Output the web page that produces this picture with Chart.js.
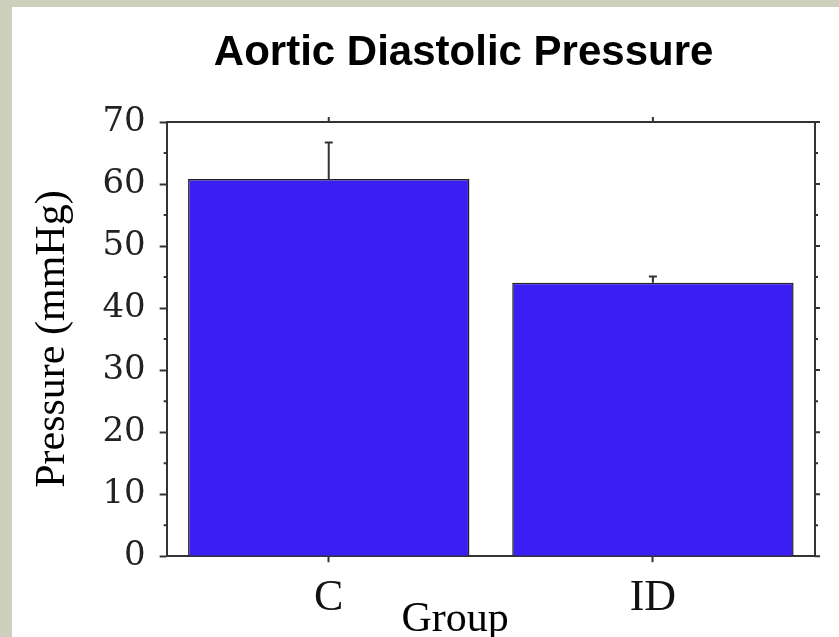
<!DOCTYPE html>
<html>
<head>
<meta charset="utf-8">
<title>Aortic Diastolic Pressure</title>
<script src="https://cdn.jsdelivr.net/npm/chart.js@4"></script>
<style>
  html, body { margin: 0; padding: 0; }
  body { width: 839px; height: 637px; background: #cdd0bc; position: relative; overflow: hidden; }
  #panel { position: absolute; left: 12px; top: 7px; right: 0; bottom: 0; background: #fff; }
  #grafico { position: absolute; left: 0; top: 0; }
</style>
</head>
<body>
<div id="panel"></div>
<canvas id="grafico" width="839" height="637"></canvas>
<script>
// groups and mean pressure (mmHg) with the upper error bar
const groups = ['C', 'ID'];
const pressure = [60.8, 44.1];
const pressureErr = [5.9, 1.0];
const yMin = 0, yMax = 70, yStep = 10;

const chartTitle = 'Aortic Diastolic Pressure';
const xTitle = 'Group';
const yTitle = 'Pressure (mmHg)';

const lineColor = '#333';
const serif = 'Liberation Serif';

// error bar above each bar
const errorBars = {
  id: 'errorBars',
  afterDatasetsDraw(chart) {
    const ctx = chart.ctx;
    const y = chart.scales.y;
    const meta = chart.getDatasetMeta(0);
    ctx.save();
    ctx.strokeStyle = lineColor;
    ctx.lineWidth = 2;
    meta.data.forEach(function(bar, i) {
      const top = y.getPixelForValue(pressure[i] + pressureErr[i]);
      ctx.beginPath();
      ctx.moveTo(bar.x, bar.y);
      ctx.lineTo(bar.x, top);
      ctx.moveTo(bar.x - 4, top);
      ctx.lineTo(bar.x + 4, top);
      ctx.stroke();
    });
    ctx.restore();
  }
};

// top / right frame, minor ticks, heading and the x title
const frame = {
  id: 'frame',
  afterDraw(chart) {
    const ctx = chart.ctx;
    const a = chart.chartArea;
    const x = chart.scales.x;
    const y = chart.scales.y;
    ctx.save();
    ctx.strokeStyle = lineColor;
    ctx.lineWidth = 2;
    ctx.beginPath();
    ctx.moveTo(a.left, a.top);
    ctx.lineTo(a.right, a.top);
    ctx.lineTo(a.right, a.bottom);
    // ticks on the top edge at the group centres
    groups.forEach(function(g, i) {
      const px = x.getPixelForValue(i);
      ctx.moveTo(px, a.top);
      ctx.lineTo(px, a.top - 5);
    });
    // right edge ticks, long every 10, short every 5
    for (let v = yMin; v <= yMax; v += yStep / 2) {
      const py = y.getPixelForValue(v);
      const major = v % yStep === 0;
      ctx.moveTo(a.right, py);
      ctx.lineTo(a.right + (major ? 5 : 3), py);
      if (!major) {
        ctx.moveTo(a.left, py);
        ctx.lineTo(a.left - 3, py);
      }
    }
    ctx.stroke();

    ctx.fillStyle = '#000';
    ctx.textAlign = 'center';
    ctx.textBaseline = 'alphabetic';
    ctx.font = 'bold 42px "Liberation Sans"';
    ctx.fillText(chartTitle, a.left + (a.right - a.left) * 0.458, 65);
    ctx.font = '42px "' + serif + '"';
    ctx.fillText(xTitle, a.left + (a.right - a.left) * 0.445, 631);
    ctx.restore();
  }
};

const data = {
  labels: groups,
  datasets: [{
    data: pressure,
    backgroundColor: '#3b1ef2',
    borderColor: '#222',
    borderWidth: 1.5,
    categoryPercentage: 1,
    barPercentage: 0.868
  }]
};

const config = {
  type: 'bar',
  data: data,
  options: {
    responsive: false,
    animation: false,
    layout: {
      padding: { left: 28, top: 122, right: 24, bottom: 2 }
    },
    plugins: {
      legend: { display: false },
      tooltip: { enabled: false },
      title: { display: false }
    },
    scales: {
      x: {
        grid: {
          offset: false,
          drawOnChartArea: false,
          tickLength: 6,
          tickWidth: 2,
          tickColor: lineColor
        },
        border: { display: true, color: lineColor, width: 2 },
        ticks: {
          color: '#111',
          padding: 10,
          font: { family: serif, size: 44 }
        }
      },
      y: {
        min: yMin,
        max: yMax,
        grid: {
          drawOnChartArea: false,
          tickLength: 7,
          tickWidth: 2,
          tickColor: lineColor
        },
        border: { display: true, color: lineColor, width: 2 },
        ticks: {
          stepSize: yStep,
          color: '#222',
          padding: 14,
          font: { family: 'DejaVu Serif', size: 34 }
        },
        title: {
          display: true,
          text: yTitle,
          color: '#000',
          font: { family: serif, size: 42 },
          padding: { top: 0, bottom: 10 }
        }
      }
    }
  },
  plugins: [errorBars, frame]
};

const grafico = new Chart(document.getElementById('grafico'), config);
</script>
</body>
</html>
